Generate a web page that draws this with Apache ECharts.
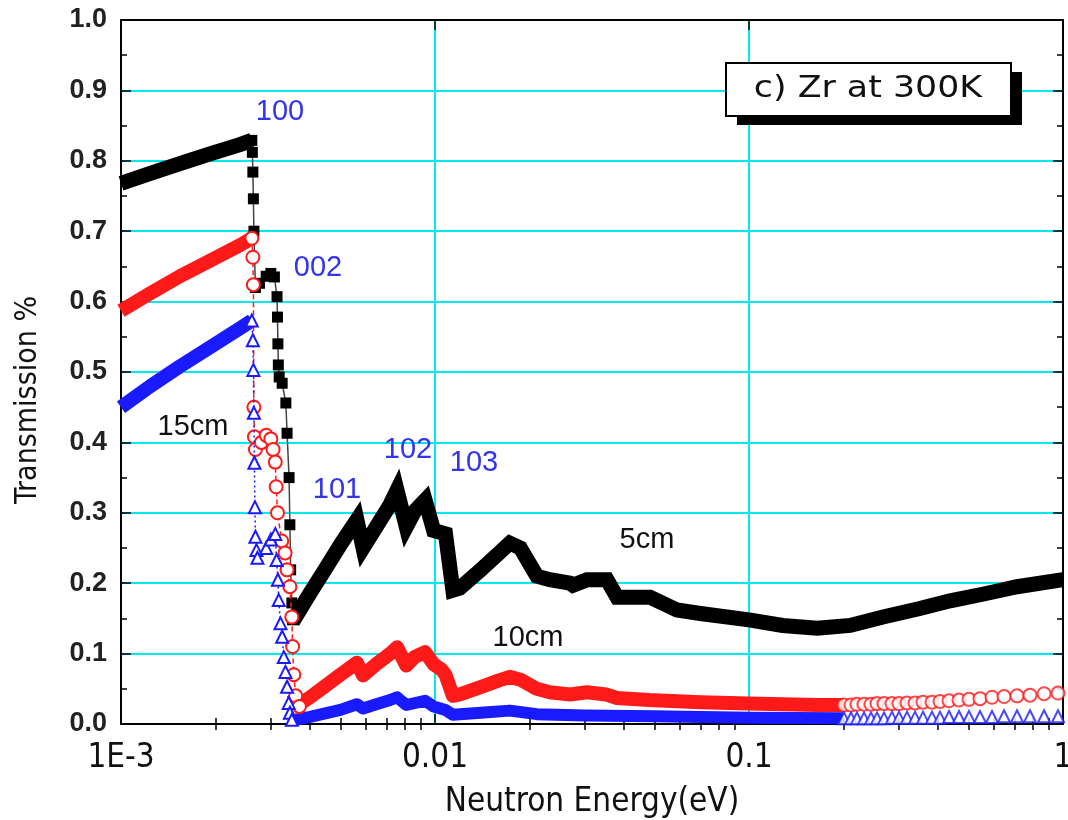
<!DOCTYPE html>
<html>
<head>
<meta charset="UTF-8">
<title>Zr transmission</title>
<script src="https://cdn.jsdelivr.net/npm/echarts@6/dist/echarts.min.js"></script>
<style>
  * { margin: 0; padding: 0; }
  body { background: #fff; }
  #main { width: 1068px; height: 820px; }
</style>
</head>
<body>
<div id="main"></div>
<script>
// ---- data: [energy (eV), transmission] ----
var blackLeft = [[0.001,0.768],[0.00124,0.782],[0.00154,0.796],[0.00192,0.81],[0.00239,0.823],[0.00261,0.829]];
var blackDrop = [[0.00261,0.829],[0.00262,0.812],[0.00263,0.784],[0.00264,0.746],[0.00265,0.70],[0.00268,0.62],
  [0.00276,0.626],[0.0029,0.636],[0.003,0.64],[0.00308,0.635],[0.00314,0.607],[0.00315,0.578],[0.00316,0.54],
  [0.00317,0.51],[0.00319,0.493],[0.00326,0.484],[0.00335,0.456],[0.00338,0.413],[0.00343,0.35],[0.00345,0.283],
  [0.00347,0.219],[0.0035,0.172],[0.00352,0.148]];
var blackRight = [[0.00352,0.145],[0.004,0.186],[0.0045,0.222],[0.005,0.255],[0.00564,0.29],[0.0059,0.25],
  [0.0065,0.28],[0.0072,0.312],[0.00757,0.332],[0.0081,0.28],[0.0086,0.302],[0.0093,0.318],[0.0099,0.275],
  [0.0108,0.27],[0.0114,0.19],[0.012,0.193],[0.0139,0.218],[0.016,0.243],[0.0173,0.257],[0.0187,0.25],
  [0.0211,0.21],[0.0232,0.205],[0.0269,0.2],[0.0275,0.197],[0.0305,0.205],[0.0353,0.205],[0.038,0.18],
  [0.0484,0.18],[0.059,0.162],[0.07,0.157],[0.1,0.148],[0.128,0.14],[0.165,0.136],[0.21,0.14],[0.267,0.152],
  [0.35,0.164],[0.437,0.175],[0.564,0.185],[0.714,0.195],[1.0,0.205]];

var redLeft = [[0.001,0.587],[0.00124,0.612],[0.00154,0.636],[0.00192,0.658],[0.00239,0.68],[0.00261,0.69]];
var redDrop = [[0.00261,0.69],[0.00263,0.663],[0.00264,0.624],[0.00265,0.45],[0.00266,0.408],[0.00268,0.39],
  [0.0028,0.40],[0.0029,0.41],[0.003,0.405],[0.00305,0.39],[0.0031,0.372],[0.00312,0.337],[0.00315,0.30],
  [0.00325,0.26],[0.00333,0.243],[0.00338,0.219],[0.00345,0.195],[0.0035,0.152],[0.00352,0.11],
  [0.00355,0.07],[0.0036,0.04],[0.0037,0.025]];
var redRight = [[0.0037,0.028],[0.004,0.038],[0.0045,0.055],[0.005,0.07],[0.00564,0.087],[0.0059,0.069],
  [0.0065,0.085],[0.0072,0.1],[0.00757,0.109],[0.0081,0.083],[0.0086,0.095],[0.0093,0.102],[0.0099,0.085],
  [0.0105,0.077],[0.0108,0.07],[0.0114,0.04],[0.012,0.042],[0.0139,0.052],[0.016,0.062],[0.0173,0.067],
  [0.0187,0.063],[0.0211,0.05],[0.0232,0.045],[0.0269,0.042],[0.0305,0.045],[0.035,0.042],[0.038,0.037],
  [0.048,0.034],[0.07,0.031],[0.1,0.029],[0.128,0.028],[0.165,0.027],[0.2,0.027]];

var blueLeft = [[0.001,0.45],[0.00124,0.48],[0.00154,0.508],[0.00192,0.535],[0.00239,0.562],[0.00261,0.573]];
var blueDrop = [[0.00261,0.573],[0.00263,0.545],[0.00264,0.503],[0.00265,0.442],[0.00266,0.371],[0.00267,0.308],
  [0.00268,0.266],[0.0027,0.247],[0.00272,0.236],[0.0029,0.25],[0.003,0.262],[0.0031,0.27],[0.00313,0.233],
  [0.00316,0.205],[0.00318,0.176],[0.00322,0.143],[0.00326,0.124],[0.0033,0.095],[0.00334,0.074],
  [0.00338,0.053],[0.00342,0.03],[0.00345,0.016],[0.0035,0.006]];
var blueRight = [[0.0035,0.005],[0.004,0.01],[0.005,0.02],[0.00564,0.028],[0.0059,0.022],[0.0065,0.028],
  [0.0072,0.034],[0.00757,0.038],[0.0081,0.027],[0.0093,0.033],[0.0099,0.025],[0.0108,0.02],[0.0114,0.013],
  [0.014,0.016],[0.0173,0.019],[0.0211,0.014],[0.03,0.012],[0.05,0.011],[0.1,0.009],[0.2,0.008]];

// sparse points at the high-energy end
var tailEnergy = [0.2007,0.2113,0.2207,0.2324,0.2446,0.2557,0.2692,0.2853,0.3004,0.3186,0.3379,0.3582,
  0.3826,0.4058,0.4335,0.4665,0.5018,0.5441,0.5942,0.6489,0.7137,0.7851,0.8703,0.9641];
var redTailT = [0.027,0.027,0.028,0.028,0.028,0.029,0.029,0.029,0.029,0.030,0.030,0.031,
  0.031,0.032,0.033,0.034,0.035,0.036,0.038,0.039,0.040,0.041,0.043,0.044];
var blueTailT = [0.008,0.008,0.008,0.008,0.008,0.008,0.008,0.009,0.009,0.009,0.009,0.009,
  0.009,0.009,0.010,0.010,0.010,0.010,0.010,0.011,0.011,0.011,0.011,0.011];

var xMinorTicks = [0.002,0.003,0.004,0.005,0.006,0.007,0.008,0.009,
  0.02,0.03,0.04,0.05,0.06,0.07,0.08,0.09,0.2,0.3,0.4,0.5,0.6,0.7,0.8,0.9];

function pairs(xs, ys) {
  return xs.map(function (x, i) { return [x, ys[i]]; });
}

var cyan = '#00eaf0';
var narrow = "'Liberation Sans Narrow', 'DejaVu Sans Condensed', 'Liberation Sans', sans-serif";
var arial = "'Liberation Sans', Arial, sans-serif";

function band(data, color, width, join) {
  return {
    type: 'line', data: data, showSymbol: false, symbol: 'none', silent: true,
    lineStyle: { color: color, width: width, cap: 'butt', join: join || 'round' },
    z: 3
  };
}

var xBase = {
  type: 'log', logBase: 10, min: 0.001, max: 1,
  axisLine: { show: true, onZero: false, lineStyle: { color: '#000', width: 2 } },
  axisTick: { show: true, inside: true, length: 10, lineStyle: { color: '#000', width: 1.5 } },
  splitLine: { show: false },
  axisLabel: { show: false }
};
var xMinor = {
  type: 'log', logBase: 10, min: 0.001, max: 1,
  axisLine: { show: false },
  axisTick: { show: true, inside: true, length: 6, customValues: xMinorTicks, lineStyle: { color: '#000', width: 1.5 } },
  splitLine: { show: false },
  axisLabel: { show: false }
};
var yBase = {
  type: 'value', min: 0, max: 1, interval: 0.1,
  axisLine: { show: true, onZero: false, lineStyle: { color: '#000', width: 2 } },
  axisTick: { show: true, inside: true, length: 10, lineStyle: { color: '#000', width: 1.5 } },
  minorTick: { show: true, splitNumber: 2, length: 6, lineStyle: { color: '#000', width: 1.5 } },
  splitLine: { show: false },
  axisLabel: { show: false }
};

var chart = echarts.init(document.getElementById('main'));
chart.setOption({
  animation: false,
  backgroundColor: '#fff',
  grid: { left: 121, right: 5, top: 20, bottom: 96, outerBoundsMode: 'none', containLabel: false },
  xAxis: [
    Object.assign({}, xBase, {
      position: 'bottom',
      splitLine: { show: true, lineStyle: { color: cyan, width: 2 } },
      axisLabel: {
        show: true, margin: 18, fontSize: 33, fontFamily: narrow, color: '#111',
        formatter: function (v) { return v < 0.005 ? '1E-3' : String(+v.toPrecision(3)); }
      },
      name: 'Neutron Energy(eV)', nameLocation: 'middle', nameGap: 62,
      nameTextStyle: { fontSize: 33, fontFamily: narrow, color: '#111' }
    }),
    Object.assign({}, xBase, { position: 'top' }),
    Object.assign({}, xMinor, { position: 'bottom' }),
    Object.assign({}, xMinor, { position: 'top' })
  ],
  yAxis: [
    Object.assign({}, yBase, {
      position: 'left',
      splitLine: { show: true, lineStyle: { color: cyan, width: 2 } },
      axisLabel: {
        show: true, margin: 14, fontSize: 27, fontWeight: 'bold', fontFamily: arial, color: '#222',
        formatter: function (v) { return v.toFixed(1); }
      }
    }),
    Object.assign({}, yBase, { position: 'right' })
  ],
  series: [
    band(blackLeft, '#000', 15, 'miter'),
    {
      type: 'line', data: blackDrop, symbol: 'rect', symbolSize: 11, showSymbol: true, z: 3,
      itemStyle: { color: '#000' },
      lineStyle: { color: '#444', width: 1.5 }
    },
    band(blackRight, '#000', 15, 'miter'),

    band(redLeft, '#ff1a1a', 14),
    {
      type: 'line', data: redDrop, symbol: 'emptyCircle', symbolSize: 13, showSymbol: true, z: 4,
      itemStyle: { color: '#ff1a1a', borderWidth: 2 },
      lineStyle: { color: '#ff1a1a', width: 1.5, type: [5, 3] }
    },
    band(redRight, '#ff1a1a', 14),
    {
      type: 'scatter', data: pairs(tailEnergy, redTailT), symbol: 'emptyCircle', symbolSize: 13, z: 4,
      itemStyle: { color: '#ff1a1a', borderWidth: 2 }
    },

    band(blueLeft, '#1a1aff', 14),
    {
      type: 'line', data: blueDrop, symbol: 'emptyTriangle', symbolSize: 12, showSymbol: true, z: 5,
      itemStyle: { color: '#1a1aff', borderWidth: 1.8 },
      lineStyle: { color: '#1a1aff', width: 1.5, type: [2, 3] }
    },
    band(blueRight, '#1a1aff', 12),
    {
      type: 'scatter', data: pairs(tailEnergy, blueTailT), symbol: 'emptyTriangle', symbolSize: 12, z: 5,
      itemStyle: { color: '#1a1aff', borderWidth: 1.8 }
    }
  ],
  graphic: [
    { type: 'text', x: 28, y: 400, rotation: Math.PI / 2, z: 12, style: { text: 'Transmission %', fill: '#111', font: "30px 'Liberation Sans Narrow', 'DejaVu Sans Condensed'", align: 'center', verticalAlign: 'middle' } },
    { type: 'rect', left: 737, top: 72, shape: { width: 285, height: 53 }, style: { fill: '#000' }, z: 10 },
    { type: 'rect', left: 725, top: 62, shape: { width: 285, height: 53 }, style: { fill: '#fff', stroke: '#000', lineWidth: 2 }, z: 11 },
    { type: 'text', x: 868, y: 89, scaleX: 1.16, z: 12, style: { text: 'c) Zr at 300K', fill: '#111', font: "30px 'DejaVu Sans'", align: 'center', verticalAlign: 'middle' } },
    { type: 'text', x: 280, y: 112, z: 12, style: { text: '100', fill: '#3333ee', font: "29px 'Liberation Sans'", align: 'center', verticalAlign: 'middle' } },
    { type: 'text', x: 318, y: 268, z: 12, style: { text: '002', fill: '#3333ee', font: "29px 'Liberation Sans'", align: 'center', verticalAlign: 'middle' } },
    { type: 'text', x: 337, y: 490, z: 12, style: { text: '101', fill: '#3333ee', font: "29px 'Liberation Sans'", align: 'center', verticalAlign: 'middle' } },
    { type: 'text', x: 408, y: 450, z: 12, style: { text: '102', fill: '#3333ee', font: "29px 'Liberation Sans'", align: 'center', verticalAlign: 'middle' } },
    { type: 'text', x: 474, y: 463, z: 12, style: { text: '103', fill: '#3333ee', font: "29px 'Liberation Sans'", align: 'center', verticalAlign: 'middle' } },
    { type: 'text', x: 193, y: 427, z: 12, style: { text: '15cm', fill: '#111', font: "29px 'Liberation Sans'", align: 'center', verticalAlign: 'middle' } },
    { type: 'text', x: 647, y: 540, z: 12, style: { text: '5cm', fill: '#111', font: "29px 'Liberation Sans'", align: 'center', verticalAlign: 'middle' } },
    { type: 'text', x: 528, y: 638, z: 12, style: { text: '10cm', fill: '#111', font: "29px 'Liberation Sans'", align: 'center', verticalAlign: 'middle' } }
  ]
});
</script>
</body>
</html>
